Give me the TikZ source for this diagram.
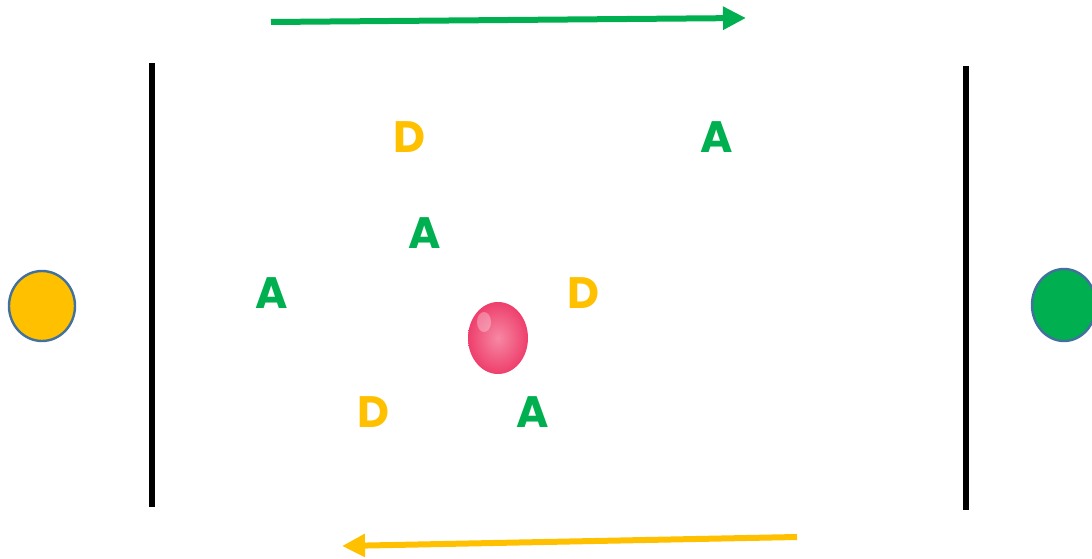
\documentclass[tikz,border=0pt]{standalone}
\usepackage{fontspec}
\setmainfont{Poppins}
\usetikzlibrary{arrows.meta}
\definecolor{offgreen}{HTML}{00B050}
\definecolor{offyellow}{HTML}{FFC000}
\definecolor{rimblue}{HTML}{41719C}
\definecolor{ballpink}{HTML}{F2557D}
\definecolor{balledge}{HTML}{EE3F6C}
\begin{document}
\begin{tikzpicture}[x=1pt,y=1pt,
  lett/.style={font=\fontsize{44}{44}\selectfont\bfseries, inner sep=0pt},
  dlett/.style={lett, text=offyellow},
  alett/.style={lett, text=offgreen},
  wall/.style={line width=5.5pt, black},
  flow/.style={line width=6pt, -{Triangle[length=23pt,width=22pt]}}]
\useasboundingbox (0,0) rectangle (1092,558);
% walls
\coordinate (w1a) at (152,495); \coordinate (w1b) at (152,51);
\coordinate (w2a) at (966,492); \coordinate (w2b) at (966,48);
\draw[wall] (w1a) -- (w1b);
\draw[wall] (w2a) -- (w2b);
% side tokens
\fill[offyellow] (42,252) ellipse (33pt and 35pt);
\draw[rimblue, line width=2.4pt] (42,252) ellipse (33pt and 35pt);
\fill[offgreen] (1064,253) ellipse (32pt and 36pt);
\draw[rimblue, line width=2.4pt] (1064,253) ellipse (32pt and 36pt);
% arrows
\coordinate (g1) at (271,536); \coordinate (g2) at (746,540);
\draw[flow, offgreen] (g1) -- (g2);
\coordinate (y1) at (797,21); \coordinate (y2) at (342,12);
\draw[flow, offyellow] (y1) -- (y2);
% ball
\shade[inner color=ballpink!70!white, outer color=balledge] (498,220) ellipse (30pt and 36pt);
\fill[white, opacity=0.3] (484,236) ellipse (7pt and 10pt);
% letters
\node[dlett] (d1) at (409,421) {D};
\node[alett] (a1) at (717,421) {A};
\node[alett] (a2) at (425,325) {A};
\node[alett] (a3) at (272,265) {A};
\node[dlett] (d2) at (583,265) {D};
\node[dlett] (d3) at (373,146) {D};
\node[alett] (a4) at (533,146) {A};
\end{tikzpicture}
\end{document}
